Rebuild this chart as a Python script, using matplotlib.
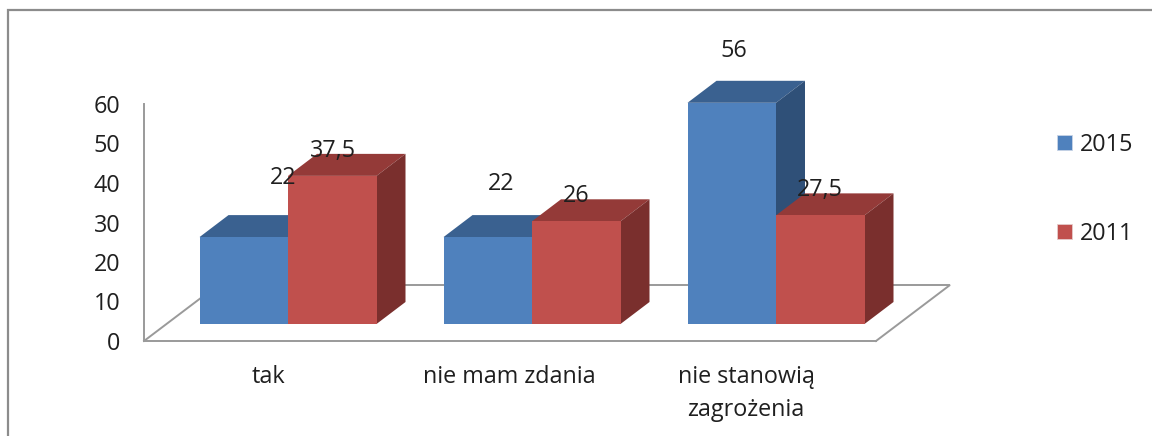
import matplotlib
matplotlib.use("Agg")
import matplotlib.pyplot as plt
from matplotlib.lines import Line2D
from matplotlib.patches import Patch, Polygon
from matplotlib.transforms import ScaledTranslation

categories = ["tak", "nie mam zdania", "nie stanowią\nzagrożenia"]
series_names = ["2015", "2011"]
values_2015 = [22, 22, 56]
values_2011 = [37.5, 26, 27.5]
labels_2015 = ["22", "22", "56"]
labels_2011 = ["37,5", "26", "27,5"]
y_ticks = [0, 10, 20, 30, 40, 50, 60]

W, H = 1152, 436
plt.rcParams["font.family"] = ["Open Sans", "DejaVu Sans"]
TEXT = "#1f1f1f"
GREY = "#9a9a9a"
fs = 16.8

fig = plt.figure(figsize=(W / 100, H / 100), dpi=100, facecolor="white")
ax = fig.add_axes([144 / W, (H - 341) / H, 732 / W, 237 / H])
ax.set_xlim(-0.5, 2.5)
ax.set_ylim(0, 60)
ax.patch.set_alpha(0)
PX = 1 / 244  # x data per pixel
PY = 60 / 237  # y data per pixel

for s in ("top", "right"):
    ax.spines[s].set_visible(False)
for s in ("left", "bottom"):
    ax.spines[s].set_color(GREY)
    ax.spines[s].set_linewidth(1.4)
ax.set_yticks(y_ticks)
ax.set_xticks(range(len(categories)))
ax.set_xticklabels(categories, fontsize=fs, color=TEXT, linespacing=1.5)
ax.tick_params(axis="x", length=0, pad=17)
ax.tick_params(axis="y", length=0, pad=17, labelsize=fs, labelcolor=TEXT)
label_nudge = [2, -1, -8]
for lab, n in zip(ax.get_xticklabels(), label_nudge):
    lab.set_transform(lab.get_transform() + ScaledTranslation(n / 100, 0, fig.dpi_scale_trans))

# floor of the pseudo-3D plot
fdx, fdy = 74 * PX, 56 * PY
ax.plot([-0.5, -0.5 + fdx, 2.5 + fdx, 2.5], [0, fdy, fdy, 0],
        color=GREY, lw=1.4, clip_on=False, zorder=1, solid_joinstyle="miter")

# bars
base = 17 * PY
shift = 22 * PX
bw = 88.5 * PX
ddx, ddy = 29 * PX, 22 * PY
styles = {
    "2015": ("#4F81BD", "#3A6190", "#2F5078"),
    "2011": ("#C0504D", "#943A38", "#7A2F2D"),
}


def bar3d(left, val, cols, z):
    front, top, side = cols
    r = left + bw
    t = base + val
    ax.add_patch(Polygon([(left, t), (r, t), (r + ddx, t + ddy), (left + ddx, t + ddy)],
                         fc=top, ec="none", clip_on=False, zorder=z))
    ax.add_patch(Polygon([(r, base), (r + ddx, base + ddy), (r + ddx, t + ddy), (r, t)],
                         fc=side, ec="none", clip_on=False, zorder=z))
    ax.bar(left, val, width=bw, bottom=base, align="edge", color=front, zorder=z + 0.1, clip_on=False)


for i in range(len(categories)):
    bar3d(i + shift - bw, values_2015[i], styles["2015"], 2 + i)
    bar3d(i + shift, values_2011[i], styles["2011"], 2.5 + i)

# data labels, hand-placed in the original chart
off_2015 = [(39, 59), (13, 53), (2, 52)]
off_2011 = [(0.5, 25), (-0.5, 25), (-0.5, 25)]
for i in range(len(categories)):
    ax.annotate(labels_2015[i], (i + shift - bw / 2, base + values_2015[i]),
                xytext=off_2015[i], textcoords="offset pixels",
                ha="center", va="center", fontsize=fs, color=TEXT, zorder=20, annotation_clip=False)
    ax.annotate(labels_2011[i], (i + shift + bw / 2, base + values_2011[i]),
                xytext=off_2011[i], textcoords="offset pixels",
                ha="center", va="center", fontsize=fs, color=TEXT, zorder=20, annotation_clip=False)

# legend
handles = [Patch(fc=styles[n][0], ec="#c8d4e6" if n == "2015" else "#e6cccb", lw=0.6) for n in series_names]
fig.legend(handles, series_names, loc="upper left", bbox_to_anchor=(1057 / W, 1 - 133 / H),
           frameon=False, fontsize=fs, labelcolor=TEXT, handlelength=0.64, handleheight=0.62,
           handletextpad=0.34, labelspacing=2.77, borderpad=0, borderaxespad=0)

# outer frame, cropped at the right and bottom
fig.add_artist(Line2D([8 / W, 8 / W, 1], [0, 1 - 10 / H, 1 - 10 / H],
                      color="#8c8c8c", lw=1.6, solid_joinstyle="miter"))

fig.savefig("out.png", dpi=100)
